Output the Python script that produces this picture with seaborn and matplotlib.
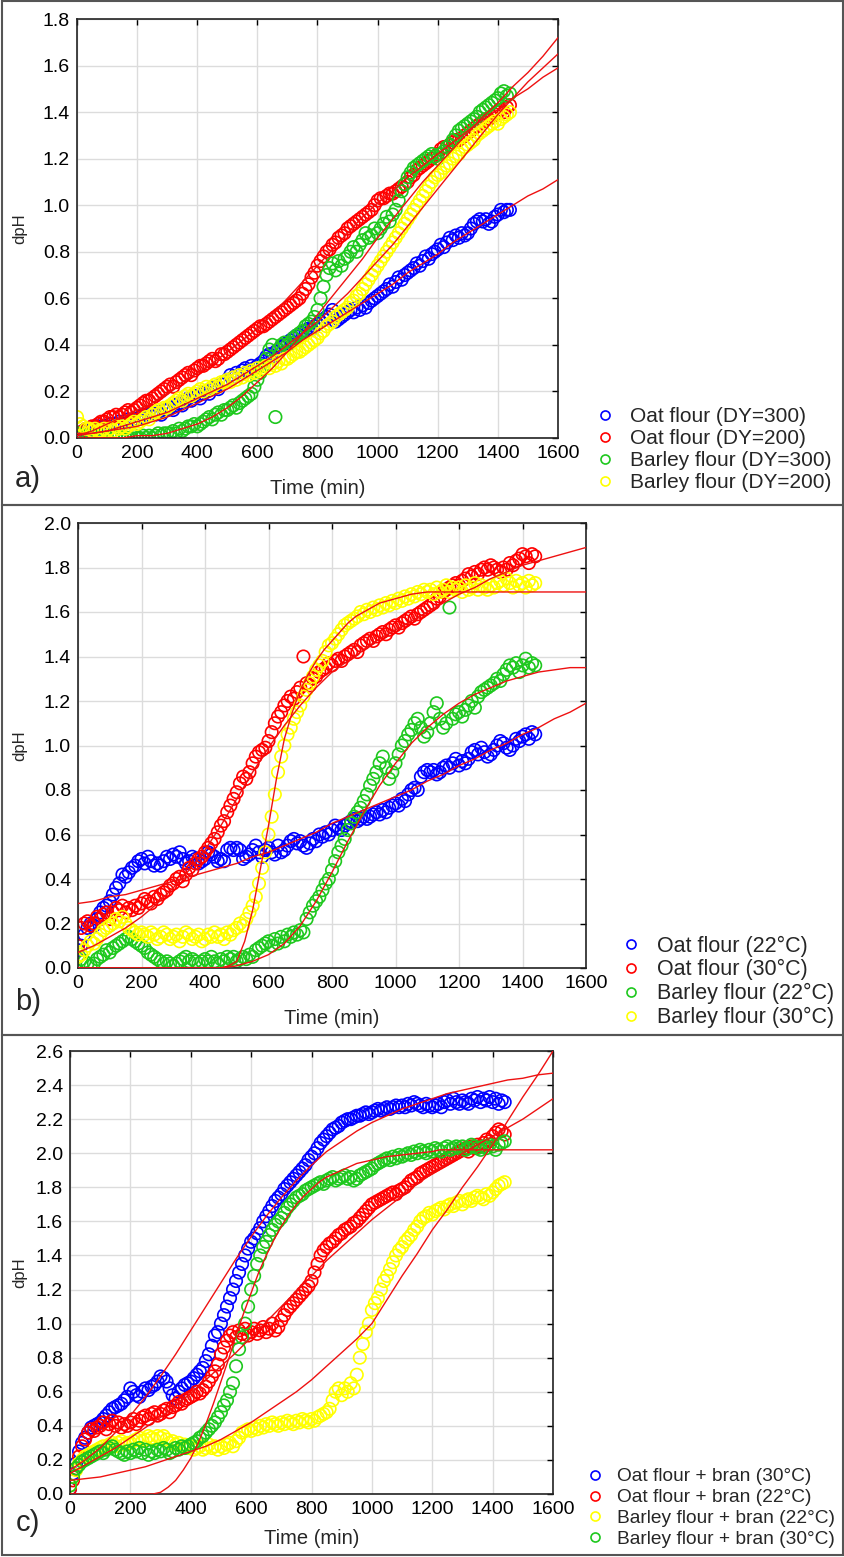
import numpy as np
import matplotlib
matplotlib.use("Agg")
import matplotlib.pyplot as plt
from matplotlib.lines import Line2D
from matplotlib.patches import Rectangle
import seaborn as sns

# time grid of the measurements (min) and of the fitted curves
time_min = np.arange(0, 1450, 10)
fit_t50 = np.arange(0, 1601, 50)
fit_t25 = np.arange(0, 1601, 25)

# ---------------- panel a) ----------------
a_labels = ["Oat flour (DY=300)", "Oat flour (DY=200)", "Barley flour (DY=300)", "Barley flour (DY=200)"]
a_oat300 = [0.02,0.02,0.03,0.03,0.04,0.04,0.05,0.05,0.04,0.05,
            0.05,0.06,0.05,0.06,0.07,0.06,0.07,0.08,0.07,0.08,
            0.08,0.09,0.10,0.09,0.10,0.11,0.10,0.11,0.10,0.12,
            0.12,0.13,0.12,0.14,0.15,0.14,0.16,0.17,0.16,0.18,
            0.18,0.17,0.19,0.20,0.19,0.21,0.22,0.21,0.23,0.24,
            0.25,0.27,0.26,0.28,0.27,0.29,0.30,0.29,0.31,0.30,
            0.31,0.32,0.33,0.35,0.36,0.35,0.37,0.38,0.39,0.40,
            0.41,0.42,0.43,0.44,0.44,0.45,0.46,0.47,0.47,0.48,
            0.49,0.50,0.51,0.52,0.53,0.55,0.50,0.51,0.52,0.53,
            0.54,0.55,0.54,0.56,0.55,0.57,0.56,0.58,0.59,0.60,
            0.61,0.62,0.63,0.64,0.66,0.65,0.67,0.69,0.68,0.70,
            0.71,0.72,0.73,0.75,0.74,0.76,0.78,0.77,0.79,0.80,
            0.81,0.83,0.82,0.84,0.86,0.85,0.87,0.86,0.88,0.87,
            0.88,0.90,0.92,0.93,0.94,0.93,0.94,0.92,0.93,0.95,
            0.96,0.98,0.97,0.98,0.98]
a_oat200 = [0.02,0.02,0.03,0.04,0.04,0.05,0.05,0.06,0.07,0.07,
            0.08,0.09,0.09,0.10,0.09,0.10,0.11,0.12,0.11,0.12,
            0.13,0.14,0.15,0.16,0.16,0.17,0.18,0.19,0.20,0.21,
            0.22,0.23,0.22,0.24,0.25,0.26,0.27,0.28,0.27,0.29,
            0.30,0.31,0.31,0.32,0.33,0.34,0.33,0.34,0.36,0.36,
            0.37,0.38,0.39,0.40,0.41,0.42,0.43,0.44,0.45,0.46,
            0.47,0.48,0.48,0.49,0.50,0.51,0.52,0.53,0.54,0.55,
            0.56,0.57,0.58,0.59,0.60,0.62,0.64,0.66,0.69,0.71,
            0.74,0.76,0.78,0.80,0.81,0.83,0.84,0.86,0.87,0.88,
            0.90,0.91,0.92,0.93,0.94,0.95,0.96,0.97,0.98,1.00,
            1.02,1.03,1.03,1.04,1.05,1.05,1.06,1.07,1.08,1.09,
            1.10,1.12,1.13,1.15,1.16,1.17,1.18,1.19,1.20,1.21,
            1.22,1.24,1.25,1.25,1.26,1.27,1.28,1.28,1.29,1.30,
            1.31,1.32,1.33,1.34,1.35,1.36,1.37,1.37,1.38,1.39,
            1.40,1.41,1.40,1.42,1.43]
a_bar300 = [0.02,0.01,0.01,0.01,0.01,0.00,0.01,0.00,0.01,0.00,
            0.00,0.01,0.00,0.00,0.01,0.00,0.00,0.00,0.00,0.01,
            0.00,0.00,0.01,0.00,0.01,0.00,0.01,0.02,0.01,0.02,
            0.02,0.02,0.03,0.02,0.04,0.03,0.04,0.05,0.05,0.06,
            0.05,0.06,0.07,0.08,0.09,0.08,0.10,0.11,0.10,0.12,
            0.12,0.13,0.14,0.13,0.15,0.16,0.17,0.18,0.19,0.22,
            0.25,0.28,0.31,0.34,0.38,0.40,0.09,0.38,0.40,0.41,
            0.40,0.41,0.43,0.44,0.45,0.46,0.48,0.49,0.50,0.52,
            0.55,0.60,0.65,0.70,0.73,0.75,0.72,0.76,0.74,0.77,
            0.78,0.80,0.82,0.80,0.83,0.85,0.88,0.86,0.87,0.90,
            0.88,0.90,0.92,0.95,0.93,0.96,0.98,1.02,1.06,1.09,
            1.12,1.14,1.16,1.17,1.18,1.19,1.20,1.21,1.22,1.21,
            1.20,1.22,1.23,1.25,1.26,1.28,1.30,1.32,1.33,1.34,
            1.35,1.36,1.37,1.38,1.40,1.41,1.42,1.43,1.44,1.45,
            1.46,1.48,1.49,1.47,1.48]
a_bar200 = [0.09,0.06,0.05,0.04,0.04,0.03,0.04,0.03,0.03,0.04,
            0.03,0.04,0.03,0.05,0.04,0.05,0.04,0.05,0.06,0.07,
            0.06,0.07,0.08,0.09,0.08,0.10,0.11,0.12,0.11,0.13,
            0.13,0.14,0.15,0.16,0.17,0.16,0.18,0.19,0.18,0.19,
            0.20,0.21,0.20,0.22,0.21,0.22,0.23,0.22,0.24,0.24,
            0.25,0.24,0.26,0.25,0.27,0.26,0.28,0.27,0.29,0.28,
            0.30,0.29,0.30,0.31,0.30,0.32,0.31,0.33,0.32,0.34,
            0.34,0.35,0.36,0.37,0.37,0.38,0.39,0.40,0.41,0.42,
            0.43,0.45,0.46,0.48,0.49,0.50,0.52,0.53,0.54,0.55,
            0.56,0.58,0.59,0.61,0.62,0.64,0.66,0.68,0.70,0.72,
            0.74,0.76,0.78,0.80,0.82,0.84,0.86,0.88,0.90,0.92,
            0.94,0.96,0.98,1.00,1.02,1.04,1.06,1.08,1.10,1.12,
            1.13,1.14,1.16,1.17,1.18,1.20,1.21,1.22,1.24,1.25,
            1.26,1.27,1.28,1.30,1.31,1.32,1.33,1.34,1.35,1.36,
            1.35,1.37,1.38,1.39,1.40]
a_fit_oat300 = [0.02,0.02,0.03,0.04,0.05,0.07,0.09,0.12,0.15,0.18,0.21,0.25,0.29,0.33,0.37,0.42,0.46,
                0.50,0.54,0.58,0.62,0.66,0.71,0.75,0.79,0.84,0.88,0.92,0.96,1.00,1.04,1.07,1.11]
a_fit_oat200 = [0.01,0.03,0.06,0.09,0.12,0.15,0.19,0.24,0.28,0.32,0.37,0.42,0.47,0.53,0.60,0.67,0.74,
                0.81,0.88,0.95,1.01,1.06,1.12,1.17,1.22,1.27,1.32,1.37,1.41,1.46,1.50,1.55,1.59]
a_fit_bar300 = [0.00,0.00,0.00,0.00,0.01,0.01,0.02,0.04,0.06,0.09,0.13,0.18,0.24,0.30,0.37,0.45,0.53,
                0.61,0.69,0.77,0.86,0.94,1.02,1.10,1.17,1.24,1.31,1.38,1.44,1.51,1.57,1.64,1.72]
a_fit_bar200 = [0.01,0.02,0.03,0.05,0.07,0.09,0.11,0.14,0.17,0.20,0.23,0.27,0.31,0.35,0.40,0.45,0.50,
                0.56,0.62,0.69,0.76,0.83,0.91,0.99,1.07,1.15,1.23,1.31,1.39,1.46,1.53,1.59,1.65]

# ---------------- panel b) ----------------
b_labels = ["Oat flour (22°C)", "Oat flour (30°C)", "Barley flour (22°C)", "Barley flour (30°C)"]
b_oat22 = [0.08,0.10,0.15,0.18,0.20,0.19,0.22,0.25,0.27,0.28,
           0.30,0.33,0.36,0.38,0.42,0.41,0.43,0.45,0.46,0.48,
           0.49,0.47,0.50,0.48,0.46,0.47,0.46,0.48,0.50,0.49,
           0.51,0.50,0.52,0.49,0.47,0.48,0.50,0.49,0.47,0.48,
           0.49,0.52,0.51,0.50,0.48,0.49,0.48,0.53,0.54,0.53,
           0.54,0.53,0.49,0.50,0.51,0.53,0.55,0.52,0.50,0.53,
           0.54,0.52,0.51,0.55,0.52,0.53,0.55,0.57,0.58,0.56,
           0.57,0.55,0.54,0.56,0.58,0.57,0.60,0.59,0.61,0.60,
           0.62,0.64,0.63,0.62,0.64,0.65,0.66,0.67,0.66,0.67,
           0.68,0.67,0.68,0.69,0.70,0.69,0.71,0.70,0.72,0.73,
           0.74,0.73,0.76,0.75,0.78,0.80,0.81,0.80,0.86,0.88,
           0.89,0.88,0.89,0.87,0.88,0.90,0.91,0.90,0.92,0.94,
           0.91,0.93,0.92,0.94,0.97,0.98,0.96,0.99,0.97,0.95,
           0.96,0.98,1.00,1.02,1.01,0.99,0.98,1.00,1.03,1.02,
           1.04,1.05,1.03,1.06,1.05]
b_oat30 = [0.10,0.18,0.20,0.21,0.19,0.20,0.23,0.22,0.24,0.25,
           0.22,0.25,0.27,0.26,0.28,0.25,0.27,0.26,0.28,0.27,
           0.29,0.31,0.30,0.29,0.32,0.31,0.33,0.34,0.35,0.37,
           0.38,0.40,0.41,0.39,0.42,0.45,0.44,0.47,0.49,0.50,
           0.52,0.54,0.56,0.58,0.61,0.64,0.66,0.70,0.73,0.76,
           0.79,0.83,0.86,0.85,0.88,0.92,0.95,0.97,0.98,0.99,
           1.02,1.06,1.10,1.13,1.15,1.18,1.20,1.22,1.21,1.24,
           1.26,1.40,1.28,1.27,1.30,1.31,1.33,1.34,1.35,1.37,
           1.36,1.38,1.39,1.38,1.40,1.41,1.42,1.43,1.42,1.45,
           1.46,1.47,1.48,1.47,1.49,1.50,1.51,1.50,1.52,1.53,
           1.54,1.53,1.55,1.56,1.57,1.58,1.57,1.59,1.60,1.61,
           1.62,1.63,1.64,1.66,1.67,1.69,1.70,1.71,1.72,1.73,
           1.72,1.74,1.75,1.77,1.76,1.78,1.77,1.79,1.80,1.79,
           1.81,1.80,1.79,1.78,1.80,1.79,1.82,1.81,1.83,1.84,
           1.86,1.85,1.82,1.86,1.85]
b_bar22 = [0.05,0.04,0.03,0.02,0.01,0.02,0.04,0.05,0.06,0.08,
           0.07,0.09,0.10,0.11,0.12,0.13,0.14,0.13,0.12,0.11,
           0.10,0.09,0.07,0.06,0.05,0.04,0.03,0.02,0.03,0.02,
           0.01,0.02,0.03,0.04,0.05,0.03,0.04,0.03,0.02,0.03,
           0.04,0.03,0.05,0.03,0.02,0.04,0.03,0.05,0.04,0.05,
           0.03,0.04,0.05,0.04,0.06,0.05,0.08,0.09,0.10,0.11,
           0.12,0.10,0.13,0.11,0.14,0.12,0.15,0.14,0.16,0.15,
           0.17,0.16,0.22,0.25,0.28,0.30,0.32,0.35,0.38,0.40,
           0.44,0.48,0.52,0.55,0.58,0.62,0.65,0.68,0.70,0.72,
           0.75,0.78,0.82,0.85,0.88,0.92,0.95,0.90,0.85,0.88,
           0.92,0.96,1.00,1.02,1.05,1.07,1.10,1.12,1.08,1.04,
           1.06,1.10,1.15,1.19,1.12,1.08,1.10,1.62,1.12,1.14,
           1.15,1.13,1.16,1.18,1.20,1.17,1.22,1.24,1.25,1.26,
           1.27,1.28,1.30,1.29,1.32,1.34,1.36,1.35,1.37,1.33,
           1.36,1.39,1.35,1.37,1.36]
b_bar30 = [0.05,0.06,0.08,0.10,0.12,0.11,0.13,0.15,0.17,0.18,
           0.19,0.20,0.22,0.21,0.23,0.20,0.18,0.17,0.16,0.15,
           0.16,0.15,0.14,0.16,0.15,0.13,0.14,0.16,0.15,0.13,
           0.14,0.15,0.12,0.14,0.16,0.15,0.13,0.14,0.15,0.12,
           0.13,0.15,0.14,0.16,0.14,0.15,0.13,0.16,0.15,0.17,
           0.18,0.20,0.19,0.22,0.25,0.28,0.32,0.38,0.45,0.52,
           0.60,0.68,0.78,0.88,0.95,1.00,1.05,1.08,1.12,1.15,
           1.18,1.22,1.25,1.28,1.31,1.34,1.36,1.38,1.42,1.45,
           1.46,1.48,1.50,1.52,1.54,1.55,1.56,1.57,1.58,1.60,
           1.59,1.61,1.60,1.62,1.61,1.63,1.62,1.64,1.63,1.65,
           1.64,1.66,1.65,1.67,1.66,1.68,1.67,1.69,1.68,1.70,
           1.69,1.70,1.68,1.71,1.69,1.70,1.72,1.69,1.71,1.70,
           1.71,1.69,1.72,1.70,1.71,1.73,1.70,1.72,1.71,1.70,
           1.72,1.71,1.73,1.74,1.72,1.75,1.73,1.71,1.74,1.72,
           1.73,1.71,1.74,1.72,1.73]
b_fit_oat22 = [0.29,0.30,0.32,0.33,0.35,0.37,0.39,0.41,0.43,0.45,0.47,0.50,0.52,0.55,0.58,0.61,0.65,
               0.68,0.71,0.74,0.77,0.80,0.84,0.87,0.91,0.94,0.98,1.01,1.05,1.08,1.12,1.15,1.19]
b_fit_oat30 = [0.07,0.10,0.14,0.18,0.23,0.29,0.36,0.44,0.53,0.64,0.76,0.88,0.99,1.09,1.18,1.26,1.33,
               1.38,1.43,1.48,1.52,1.56,1.60,1.64,1.68,1.71,1.75,1.78,1.81,1.83,1.85,1.87,1.89]
b_fit_bar22 = [0.00,0.00,0.00,0.00,0.00,0.00,0.00,0.00,0.00,0.00,0.01,0.03,0.06,0.11,0.19,0.30,0.43,
               0.57,0.70,0.82,0.92,1.01,1.08,1.14,1.19,1.23,1.26,1.29,1.31,1.33,1.34,1.35,1.35]
b_fit_bar30 = [0.00,0.00,0.00,0.00,0.00,0.00,0.00,0.00,0.00,0.00,0.00,0.00,0.00,0.00,0.00,0.00,0.00,0.00,0.00,
               0.01,0.03,0.12,0.26,0.45,0.64,0.85,1.03,1.15,1.25,1.32,1.38,1.43,1.47,1.51,1.55,1.58,1.60,
               1.62,1.64,1.65,1.66,1.67,1.68,1.685,
               1.69,1.69,1.69,1.69,1.69,1.69,1.69,1.69,1.69,1.69,1.69,1.69,1.69,1.69,1.69,1.69,1.69,1.69,1.69,1.69,1.69]

# ---------------- panel c) ----------------
c_labels = ["Oat flour + bran (30°C)", "Oat flour + bran (22°C)", "Barley flour + bran (22°C)", "Barley flour + bran (30°C)"]
c_oat30 = [0.03,0.12,0.18,0.25,0.30,0.33,0.36,0.39,0.40,0.41,
           0.42,0.44,0.46,0.48,0.50,0.51,0.52,0.53,0.55,0.57,
           0.62,0.60,0.58,0.57,0.60,0.62,0.61,0.63,0.64,0.66,
           0.69,0.68,0.66,0.62,0.58,0.56,0.60,0.62,0.64,0.65,
           0.66,0.68,0.70,0.72,0.74,0.78,0.82,0.87,0.93,0.95,
           1.00,1.05,1.10,1.15,1.20,1.25,1.30,1.35,1.40,1.44,
           1.48,1.50,1.53,1.56,1.60,1.63,1.66,1.69,1.72,1.74,
           1.76,1.79,1.81,1.83,1.85,1.87,1.89,1.91,1.93,1.96,
           1.98,2.00,2.03,2.06,2.08,2.10,2.12,2.14,2.15,2.16,
           2.18,2.19,2.20,2.20,2.21,2.22,2.22,2.23,2.24,2.23,
           2.24,2.25,2.26,2.25,2.26,2.27,2.26,2.27,2.28,2.27,
           2.28,2.27,2.29,2.28,2.30,2.29,2.28,2.27,2.29,2.28,
           2.27,2.28,2.29,2.27,2.30,2.31,2.29,2.32,2.30,2.29,
           2.31,2.30,2.29,2.32,2.31,2.33,2.30,2.32,2.31,2.33,
           2.30,2.32,2.29,2.31,2.30]
c_oat22 = [0.03,0.08,0.15,0.22,0.28,0.32,0.36,0.38,0.37,0.39,
           0.40,0.42,0.38,0.41,0.43,0.40,0.42,0.39,0.41,0.40,
           0.42,0.44,0.41,0.43,0.45,0.46,0.44,0.47,0.48,0.46,
           0.47,0.49,0.50,0.48,0.51,0.52,0.54,0.53,0.55,0.56,
           0.57,0.58,0.60,0.59,0.61,0.63,0.66,0.69,0.72,0.76,
           0.82,0.86,0.90,0.93,0.95,0.92,0.96,0.94,0.97,0.93,
           0.95,0.97,0.94,0.96,0.98,0.95,0.97,1.00,0.96,0.98,
           1.02,1.05,1.08,1.10,1.12,1.14,1.16,1.18,1.20,1.22,
           1.25,1.30,1.35,1.40,1.43,1.45,1.47,1.48,1.50,1.52,
           1.53,1.55,1.56,1.57,1.59,1.60,1.62,1.64,1.66,1.68,
           1.70,1.71,1.72,1.73,1.74,1.75,1.76,1.77,1.76,1.78,
           1.79,1.80,1.82,1.84,1.85,1.86,1.88,1.89,1.90,1.91,
           1.92,1.93,1.94,1.95,1.96,1.97,1.98,1.99,2.00,2.01,
           2.02,2.03,2.01,2.04,2.03,2.05,2.04,2.06,2.08,2.07,
           2.10,2.12,2.14,2.13,2.11]
c_bar22 = [0.05,0.10,0.14,0.18,0.20,0.22,0.23,0.24,0.25,0.26,
           0.27,0.28,0.27,0.29,0.30,0.28,0.30,0.31,0.29,0.30,
           0.30,0.31,0.32,0.33,0.31,0.32,0.34,0.33,0.32,0.34,
           0.33,0.34,0.32,0.30,0.31,0.29,0.30,0.28,0.29,0.27,
           0.28,0.26,0.27,0.28,0.26,0.27,0.29,0.27,0.28,0.26,
           0.28,0.27,0.29,0.30,0.28,0.31,0.33,0.36,0.37,0.38,
           0.37,0.39,0.38,0.40,0.39,0.41,0.40,0.42,0.41,0.40,
           0.42,0.41,0.43,0.42,0.41,0.43,0.42,0.44,0.43,0.42,
           0.44,0.43,0.45,0.46,0.47,0.48,0.50,0.55,0.60,0.62,
           0.58,0.62,0.60,0.65,0.62,0.70,0.80,0.88,0.95,1.00,
           1.08,1.12,1.15,1.20,1.25,1.28,1.32,1.36,1.40,1.43,
           1.45,1.48,1.50,1.52,1.55,1.57,1.60,1.62,1.63,1.65,
           1.64,1.66,1.67,1.68,1.67,1.69,1.70,1.69,1.71,1.72,
           1.70,1.72,1.73,1.72,1.74,1.75,1.74,1.73,1.76,1.75,
           1.77,1.79,1.81,1.82,1.83]
c_bar30 = [0.05,0.10,0.15,0.17,0.19,0.20,0.21,0.22,0.23,0.24,
           0.25,0.24,0.26,0.27,0.28,0.26,0.25,0.24,0.23,0.25,
           0.24,0.26,0.25,0.27,0.24,0.26,0.23,0.25,0.24,0.26,
           0.25,0.27,0.26,0.24,0.25,0.27,0.26,0.28,0.27,0.28,
           0.29,0.30,0.31,0.33,0.34,0.36,0.38,0.40,0.42,0.45,
           0.48,0.52,0.55,0.60,0.65,0.75,0.85,0.92,1.00,1.10,
           1.20,1.28,1.35,1.40,1.45,1.48,1.52,1.55,1.58,1.60,
           1.62,1.65,1.68,1.70,1.72,1.74,1.75,1.76,1.78,1.79,
           1.80,1.81,1.82,1.83,1.82,1.84,1.85,1.86,1.84,1.85,
           1.86,1.87,1.85,1.86,1.84,1.85,1.87,1.88,1.89,1.90,
           1.91,1.93,1.94,1.95,1.96,1.97,1.96,1.98,1.97,1.99,
           1.98,1.99,2.00,1.99,2.01,2.00,2.02,2.01,2.00,2.02,
           2.01,2.03,2.02,2.01,2.03,2.04,2.02,2.03,2.04,2.03,
           2.04,2.02,2.03,2.05,2.04,2.03,2.02,2.04,2.03,2.05,
           2.04,2.02,2.05,2.06,2.07]
c_fit_oat30 = [0.14,0.20,0.27,0.36,0.46,0.57,0.69,0.82,0.96,1.10,1.24,1.38,1.51,1.63,1.74,1.84,1.93,
               2.01,2.07,2.13,2.18,2.22,2.26,2.29,2.32,2.35,2.37,2.39,2.41,2.43,2.44,2.46,2.47]
c_fit_oat22 = [0.12,0.17,0.22,0.27,0.33,0.39,0.45,0.52,0.59,0.67,0.75,0.83,0.92,1.01,1.10,1.19,1.28,
               1.37,1.45,1.53,1.61,1.68,1.75,1.82,1.88,1.94,2.00,2.05,2.10,2.15,2.20,2.26,2.32]
c_fit_bar22 = [0.08,0.09,0.10,0.12,0.14,0.16,0.19,0.22,0.25,0.28,0.32,0.37,0.42,0.48,0.54,0.60,0.67,
               0.75,0.83,0.91,1.00,1.14,1.28,1.41,1.55,1.67,1.80,1.92,2.05,2.19,2.33,2.46,2.60]
c_fit_bar30 = [0.00,0.00,0.00,0.00,0.00,0.00,0.00,0.00,0.00,0.00,0.00,0.00,
               0.01,0.04,0.08,0.14,0.21,0.30,0.41,0.53,0.66,0.79,0.93,1.06,1.18,1.30,1.40,1.49,1.57,
               1.64,1.70,1.75,1.79,1.83,1.86,1.88,1.90,1.92,1.94,1.95,1.96,1.97,1.98,1.985,1.99,1.995,
               2.00,2.005,2.01,
               2.02,2.02,2.02,2.02,2.02,2.02,2.02,2.02,2.02,2.02,2.02,2.02,2.02,2.02,2.02,2.02]

BLUE, RED, GREEN, YELLOW = "#0000ff", "#ff0000", "#1ec81e", "#ffff00"

panels = [
    dict(series=[a_oat300, a_oat200, a_bar300, a_bar200], labels=a_labels,
         colors=[BLUE, RED, GREEN, YELLOW],
         fits=[(fit_t50, a_fit_oat300), (fit_t50, a_fit_oat200), (fit_t50, a_fit_bar300), (fit_t50, a_fit_bar200)],
         ymax=1.8, rect=(77, 19, 558, 438), tag="a)", tag_y=479, xlab_y=488,
         leg=(594.6, 407.5), leg_fs=15, leg_sp=0.135, leg_pad=0.7),
    dict(series=[b_oat22, b_oat30, b_bar22, b_bar30], labels=b_labels,
         colors=[BLUE, RED, GREEN, YELLOW],
         fits=[(fit_t50, b_fit_oat22), (fit_t50, b_fit_oat30), (fit_t50, b_fit_bar22), (fit_t25, b_fit_bar30)],
         ymax=2.0, rect=(78, 523, 586, 968), tag="b)", tag_y=1002, xlab_y=1018,
         leg=(620, 935.5), leg_fs=15.5, leg_sp=0.125, leg_pad=0.7),
    dict(series=[c_oat30, c_oat22, c_bar22, c_bar30], labels=c_labels,
         colors=[BLUE, RED, YELLOW, GREEN],
         fits=[(fit_t50, c_fit_oat30), (fit_t50, c_fit_oat22), (fit_t50, c_fit_bar22), (fit_t25, c_fit_bar30)],
         ymax=2.6, rect=(70, 1051, 553, 1494), tag="c)", tag_y=1523, xlab_y=1538,
         leg=(585.4, 1468), leg_fs=13.8, leg_sp=0.18, leg_pad=0.65),
]

W, H = 845, 1557
sns.set_style("white")
plt.rcParams["font.family"] = ["Liberation Sans", "DejaVu Sans"]

fig = plt.figure(figsize=(W / 100, H / 100), dpi=100)

for p in panels:
    x0, y0, x1, y1 = p["rect"]
    ax = fig.add_axes([x0 / W, 1 - y1 / H, (x1 - x0) / W, (y1 - y0) / H])
    for vals, col in zip(p["series"], p["colors"]):
        sns.scatterplot(x=time_min, y=vals, ax=ax, s=80, marker="o",
                        facecolor="none", edgecolor=col, linewidth=1.2, zorder=2)
    for fx, fy in p["fits"]:
        sns.lineplot(x=fx, y=fy, ax=ax, color="#ee1111", linewidth=1.0,
                     estimator=None, sort=False, zorder=3)
    ax.set_xlim(0, 1600)
    ax.set_ylim(0, p["ymax"])
    ax.set_xticks(np.arange(0, 1601, 200))
    ax.set_yticks(np.arange(0, p["ymax"] + 0.01, 0.2))
    ax.yaxis.set_major_formatter(matplotlib.ticker.FormatStrFormatter("%.1f"))
    ax.grid(True, color="#dcdcdc", linewidth=1.0)
    ax.set_axisbelow(True)
    ax.tick_params(direction="in", length=4, width=1, top=True, right=True,
                   labelsize=14, pad=5, colors="black")
    for sp in ax.spines.values():
        sp.set_color("#222222")
        sp.set_linewidth(1.2)
    ax.set_xlabel("")
    ax.set_ylabel("")
    # axis titles and panel tag
    fig.text(((x0 + x1) / 2) / W, 1 - p["xlab_y"] / H, "Time (min)", fontsize=14.5,
             ha="center", va="center")
    fig.text(20 / W, 1 - ((y0 + y1) / 2) / H, "dpH", fontsize=12, rotation=90,
             ha="center", va="center")
    fig.text(28 / W, 1 - p["tag_y"] / H, p["tag"], fontsize=21, ha="center", va="center")
    # legend
    handles = [Line2D([], [], linestyle="none", marker="o", markersize=6.5, markerfacecolor="none",
                      markeredgecolor=c, markeredgewidth=1.2) for c in p["colors"]]
    lx, ly = p["leg"]
    fig.legend(handles, p["labels"], loc="upper left", bbox_to_anchor=(lx / W, 1 - ly / H),
               frameon=False, fontsize=p["leg_fs"], handlelength=1.0, handletextpad=p["leg_pad"],
               labelspacing=p["leg_sp"], borderpad=0, borderaxespad=0)

# frames around the three panels
for top, bot in [(1, 505), (505, 1035), (1035, 1555)]:
    fig.add_artist(Rectangle((2 / W, 1 - bot / H), 841 / W, (bot - top) / H, transform=fig.transFigure,
                             fill=False, edgecolor="#555555", linewidth=1.5))

fig.savefig("out.png", dpi=100)
